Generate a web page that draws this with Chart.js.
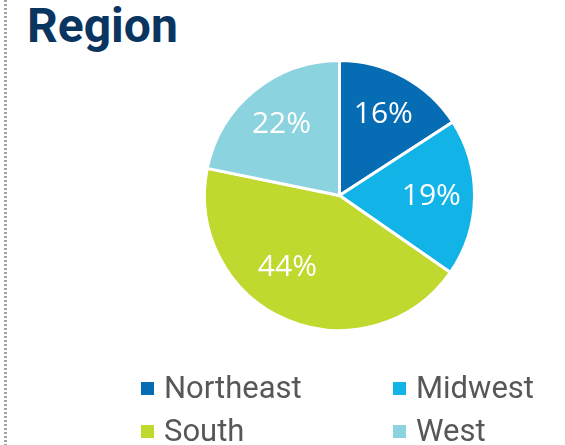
<!DOCTYPE html>
<html>
<head>
<meta charset="utf-8">
<script src="https://cdn.jsdelivr.net/npm/chart.js@4/dist/chart.umd.min.js"></script>
<style>
  html, body { margin: 0; padding: 0; background: #fff; }
  #wrap { position: relative; width: 565px; height: 445px; overflow: hidden; }
  #dots {
    position: absolute; left: 4px; top: 0; width: 3px; height: 445px;
    background: repeating-linear-gradient(to bottom, #a3a3a3 0 2px, transparent 2px 4px);
  }
  #title {
    position: absolute; left: 27px; top: 2px; margin: 0;
    font: 700 48px/48px Roboto, sans-serif; color: #0b3561;
  }
  #chart { position: absolute; left: 0; top: 0; }
  #legend {
    position: absolute; left: 141px; top: 372px;
    display: grid; grid-template-columns: 252px auto; grid-auto-rows: 43px;
    font: 400 31px/31px Roboto, sans-serif; color: #575757;
  }
  .item { display: flex; align-items: center; height: 31px; }
  .box { width: 13px; height: 13px; margin-right: 10px; margin-top: 2px; }
</style>
</head>
<body>
<div id="wrap">
  <div id="dots"></div>
  <h1 id="title">Region</h1>
  <canvas id="chart" width="565" height="445"></canvas>
  <div id="legend"></div>
</div>
<script>
const regions = ["Northeast", "Midwest", "South", "West"];
const shares = [16, 19, 44, 22];
const colors = ["#066cb4", "#12b4e8", "#c1d82f", "#8bd3de"];

// legend, two columns
const legend = document.getElementById("legend");
regions.forEach((name, i) => {
  const item = document.createElement("div");
  item.className = "item";
  item.innerHTML = `<span class="box" style="background:${colors[i]}"></span>${name}`;
  legend.appendChild(item);
});

// percent labels inside the slices
const sliceLabels = {
  id: "sliceLabels",
  afterDatasetsDraw(chart, args, opts) {
    const ctx = chart.ctx;
    const arcs = chart.getDatasetMeta(0).data;
    ctx.save();
    ctx.fillStyle = "#fff";
    ctx.font = "400 30px 'Open Sans', sans-serif";
    ctx.textAlign = "center";
    ctx.textBaseline = "middle";
    arcs.forEach((arc, i) => {
      const mid = (arc.startAngle + arc.endAngle) / 2;
      const r = arc.outerRadius * opts.ratio;
      const nudge = (opts.nudge && opts.nudge[i]) || [0, 0];
      const x = arc.x + Math.cos(mid) * r + nudge[0];
      const y = arc.y + Math.sin(mid) * r + nudge[1];
      ctx.fillText(chart.data.datasets[0].data[i] + "%", x, y);
    });
    ctx.restore();
  },
};

const chart = new Chart(document.getElementById("chart"), {
  type: "pie",
  data: {
    labels: regions,
    datasets: [
      {
        data: shares,
        backgroundColor: colors,
        borderColor: "#ffffff",
        borderWidth: 3,
        hoverOffset: 0,
      },
    ],
  },
  options: {
    responsive: false,
    animation: false,
    layout: { padding: { left: 203, right: 89, top: 59, bottom: 113 } },
    plugins: {
      legend: { display: false },
      tooltip: { enabled: false },
      sliceLabels: { ratio: 0.68, nudge: { 2: [-16, -12] } },
    },
  },
  plugins: [sliceLabels],
});
</script>
</body>
</html>
